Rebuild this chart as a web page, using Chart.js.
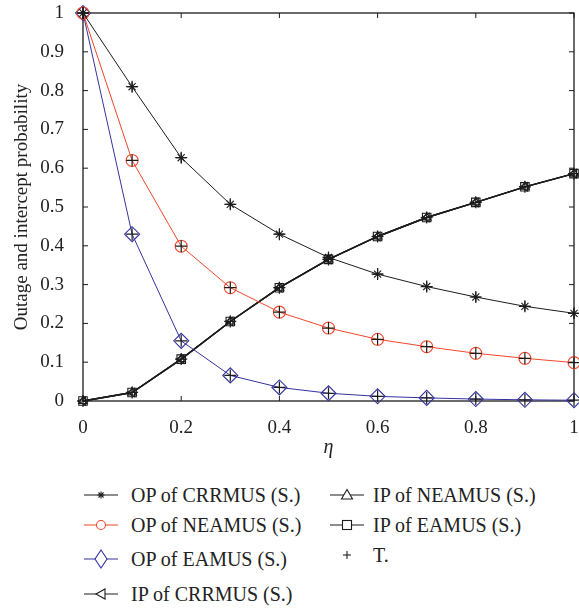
<!DOCTYPE html>
<html>
<head>
<meta charset="utf-8">
<script src="https://cdn.jsdelivr.net/npm/chart.js@4.4.1/dist/chart.umd.min.js"></script>
<style>
  body { margin: 0; background: #fff; width: 579px; height: 608px; overflow: hidden; font-family: "Liberation Serif", "DejaVu Serif", serif; }
  #wrap { position: absolute; left: 0; top: 0; width: 579px; height: 460px; }
  .leg { position: absolute; font-size: 20px; color: #222; white-space: nowrap; height: 22px; line-height: 22px; }
  .leg svg { position: absolute; left: 0; top: -1px; overflow: visible; }
  .leg span { position: absolute; top: 0; }
</style>
</head>
<body>
<div id="wrap"><canvas id="chart"></canvas></div>
<div id="legend"></div>
<script>
// eta values on the x axis
const eta = [0, 0.1, 0.2, 0.3, 0.4, 0.5, 0.6, 0.7, 0.8, 0.9, 1];
const xTicks = [0, 0.2, 0.4, 0.6, 0.8, 1];

// outage probability (simulation)
const opCRRMUS = [1, 0.81, 0.627, 0.507, 0.43, 0.37, 0.327, 0.295, 0.268, 0.244, 0.226];
const opNEAMUS = [1, 0.62, 0.399, 0.292, 0.229, 0.188, 0.159, 0.140, 0.123, 0.110, 0.099];
const opEAMUS  = [1, 0.43, 0.155, 0.066, 0.035, 0.02, 0.012, 0.008, 0.005, 0.003, 0.002];

// intercept probability (simulation) - the three curves sit on top of each other
const ipCRRMUS = [0, 0.022, 0.108, 0.205, 0.292, 0.365, 0.424, 0.473, 0.512, 0.552, 0.586];
const ipNEAMUS = [0, 0.022, 0.108, 0.205, 0.292, 0.365, 0.424, 0.473, 0.512, 0.552, 0.586];
const ipEAMUS  = [0, 0.022, 0.108, 0.205, 0.292, 0.365, 0.424, 0.473, 0.512, 0.552, 0.586];

// theory points (T.)
const theory = [opCRRMUS, opNEAMUS, opEAMUS, ipCRRMUS];

const BLACK = '#1c1c1c', RED = '#f2462a', BLUE = '#33329e';
const serif = '"Liberation Serif", "DejaVu Serif", serif';

const pts = arr => arr.map((v, i) => ({ x: eta[i], y: v }));

const series = [
  { label: 'OP of CRRMUS (S.)', data: opCRRMUS, color: BLACK, style: 'star', r: 5, w: 1 },
  { label: 'OP of NEAMUS (S.)', data: opNEAMUS, color: RED, style: 'circle', r: 6, w: 1 },
  { label: 'OP of EAMUS (S.)', data: opEAMUS, color: BLUE, style: 'rectRot', r: 7.5, w: 1 },
  { label: 'IP of CRRMUS (S.)', data: ipCRRMUS, color: BLACK, style: 'triangle', rot: -90, r: 5, w: 1.4 },
  { label: 'IP of NEAMUS (S.)', data: ipNEAMUS, color: BLACK, style: 'triangle', r: 5, w: 1.4 },
  { label: 'IP of EAMUS (S.)', data: ipEAMUS, color: BLACK, style: 'rect', r: 6, w: 1.4 }
];

const datasets = series.map(s => ({
  label: s.label,
  data: pts(s.data),
  borderColor: s.color,
  borderWidth: s.w,
  backgroundColor: 'rgba(255,255,255,0)',
  pointStyle: s.style,
  pointRotation: s.rot || 0,
  pointRadius: s.r,
  pointBorderWidth: 1.1,
  pointBorderColor: s.color,
  pointBackgroundColor: 'rgba(255,255,255,0)',
  pointHoverRadius: s.r,
  tension: 0,
  clip: false,
  order: 2
}));

theory.forEach(arr => {
  datasets.push({
    label: 'T.',
    data: pts(arr),
    showLine: false,
    pointStyle: 'cross',
    pointRadius: 6,
    pointBorderWidth: 1.2,
    pointBorderColor: BLACK,
    borderColor: BLACK,
    clip: false,
    order: 1
  });
});

// frame with inward ticks on all four sides
const framePlugin = {
  id: 'frame',
  beforeDatasetsDraw(chart) {
    const { ctx, chartArea: a, scales: { x, y } } = chart;
    ctx.save();
    ctx.strokeStyle = BLACK;
    ctx.lineWidth = 1.3;
    ctx.strokeRect(a.left, a.top, a.right - a.left, a.bottom - a.top);
    ctx.lineWidth = 1;
    ctx.beginPath();
    x.ticks.forEach(t => {
      const px = x.getPixelForValue(t.value);
      ctx.moveTo(px, a.bottom); ctx.lineTo(px, a.bottom - 5);
      ctx.moveTo(px, a.top); ctx.lineTo(px, a.top + 5);
    });
    y.ticks.forEach(t => {
      const py = y.getPixelForValue(t.value);
      ctx.moveTo(a.left, py); ctx.lineTo(a.left + 5, py);
      ctx.moveTo(a.right, py); ctx.lineTo(a.right - 5, py);
    });
    ctx.stroke();
    ctx.restore();
  }
};

new Chart(document.getElementById('chart'), {
  type: 'line',
  data: { datasets },
  options: {
    responsive: true,
    maintainAspectRatio: false,
    animation: false,
    events: [],
    layout: { autoPadding: false, padding: { top: 13, right: 5, left: 0, bottom: 0 } },
    plugins: { legend: { display: false }, tooltip: { enabled: false } },
    scales: {
      x: {
        type: 'linear', min: 0, max: 1,
        afterBuildTicks: s => { s.ticks = xTicks.map(v => ({ value: v })); },
        afterFit: s => { s.height = 59; s.paddingLeft = 0; s.paddingRight = 0; },
        grid: { display: false }, border: { display: false },
        ticks: { font: { family: serif, size: 19 }, color: '#222', padding: 8, maxRotation: 0,
                 callback: v => String(+v.toFixed(1)) },
        title: { display: true, text: 'η', font: { family: serif, size: 20, style: 'italic' }, color: '#222', padding: { top: 0, bottom: 0 } }
      },
      y: {
        min: 0, max: 1,
        ticks: { stepSize: 0.1, font: { family: serif, size: 19 }, color: '#222', padding: 11,
                 callback: v => String(+v.toFixed(1)) },
        afterFit: s => { s.width = 83; s.paddingTop = 0; s.paddingBottom = 0; },
        grid: { display: false }, border: { display: false },
        title: { display: true, text: 'Outage and intercept probability', font: { family: serif, size: 19 }, color: '#222', padding: { top: 11, bottom: 0 } }
      }
    }
  },
  plugins: [framePlugin]
});

// legend (HTML) in two columns like the figure
const legendItems = [
  { text: 'OP of CRRMUS (S.)', color: BLACK, mk: 'star', col: 0, y: 495 },
  { text: 'OP of NEAMUS (S.)', color: RED, mk: 'circle', col: 0, y: 525 },
  { text: 'OP of EAMUS (S.)', color: BLUE, mk: 'diamond', col: 0, y: 559 },
  { text: 'IP of CRRMUS (S.)', color: BLACK, mk: 'triLeft', col: 0, y: 594 },
  { text: 'IP of NEAMUS (S.)', color: BLACK, mk: 'triUp', col: 1, y: 495 },
  { text: 'IP of EAMUS (S.)', color: BLACK, mk: 'square', col: 1, y: 525 },
  { text: 'T.', color: BLACK, mk: 'plus', col: 1, y: 555 }
];
const cols = [{ x: 84, tx: 131 }, { x: 330, tx: 373 }];

function markerSvg(mk, c) {
  const cx = 17, cy = 12;
  switch (mk) {
    case 'star':
      return `<g stroke="${c}" stroke-width="1.1"><line x1="${cx-3.5}" y1="${cy}" x2="${cx+3.5}" y2="${cy}"/><line x1="${cx}" y1="${cy-3.5}" x2="${cx}" y2="${cy+3.5}"/><line x1="${cx-2.5}" y1="${cy-2.5}" x2="${cx+2.5}" y2="${cy+2.5}"/><line x1="${cx-2.5}" y1="${cy+2.5}" x2="${cx+2.5}" y2="${cy-2.5}"/></g>`;
    case 'circle':
      return `<circle cx="${cx}" cy="${cy}" r="4.5" fill="#fff" stroke="${c}" stroke-width="1.1"/>`;
    case 'diamond':
      return `<polygon points="${cx},${cy-9} ${cx+6},${cy} ${cx},${cy+9} ${cx-6},${cy}" fill="#fff" stroke="${c}" stroke-width="1.1"/>`;
    case 'triLeft':
      return `<polygon points="${cx-5},${cy} ${cx+4},${cy-5} ${cx+4},${cy+5}" fill="#fff" stroke="${c}" stroke-width="1.1"/>`;
    case 'triUp':
      return `<polygon points="${cx},${cy-5.5} ${cx+5.5},${cy+4} ${cx-5.5},${cy+4}" fill="#fff" stroke="${c}" stroke-width="1.1"/>`;
    case 'square':
      return `<rect x="${cx-4.5}" y="${cy-4.5}" width="9" height="9" fill="#fff" stroke="${c}" stroke-width="1.1"/>`;
    case 'plus':
      return `<g stroke="${c}" stroke-width="1.1"><line x1="${cx-4}" y1="${cy}" x2="${cx+4}" y2="${cy}"/><line x1="${cx}" y1="${cy-4}" x2="${cx}" y2="${cy+4}"/></g>`;
  }
  return '';
}

const legendEl = document.getElementById('legend');
legendItems.forEach(it => {
  const col = cols[it.col];
  const div = document.createElement('div');
  div.className = 'leg';
  div.style.left = col.x + 'px';
  div.style.top = (it.y - 11) + 'px';
  const line = it.mk === 'plus' ? '' : `<line x1="0" y1="12" x2="34" y2="12" stroke="${it.color}" stroke-width="1.1"/>`;
  div.innerHTML = `<svg width="36" height="24">${line}${markerSvg(it.mk, it.color)}</svg><span style="left:${col.tx - col.x}px">${it.text}</span>`;
  legendEl.appendChild(div);
});
</script>
</body>
</html>
